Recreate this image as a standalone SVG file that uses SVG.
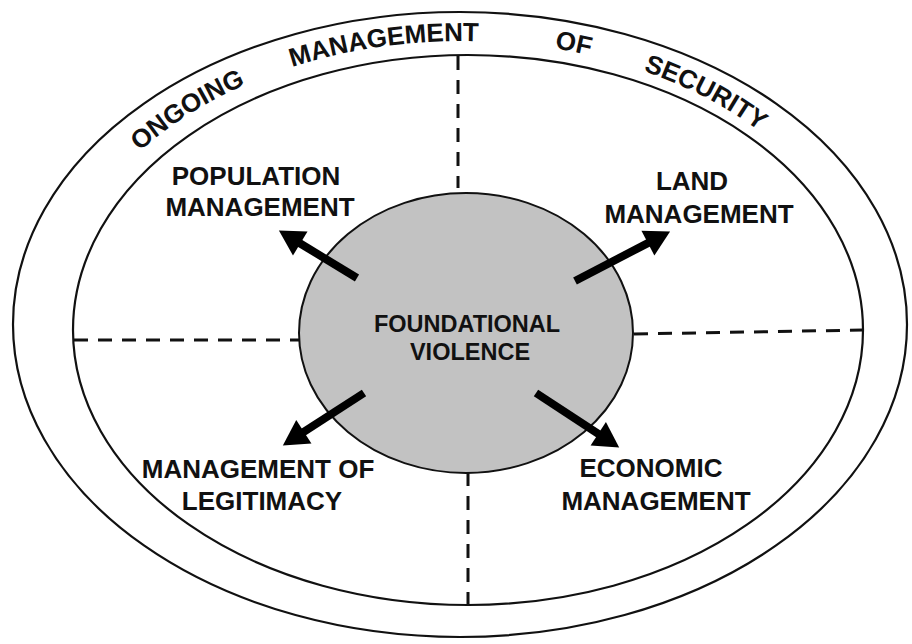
<svg xmlns="http://www.w3.org/2000/svg" width="912" height="644" viewBox="0 0 912 644">
<style>
.ring{fill:none;stroke:#111;stroke-width:2.2}
.dash{fill:none;stroke:#111;stroke-width:3;stroke-dasharray:14 10}
.arrow{stroke:#000;stroke-width:8;fill:none;marker-end:url(#head)}
.lbl{font-family:"Liberation Sans",Arial,sans-serif;font-weight:bold;font-size:26px;fill:#111;text-anchor:middle}
.ctr{font-size:23.5px}
.arc{font-family:"Liberation Sans",Arial,sans-serif;font-weight:bold;font-size:26px;fill:#111;text-anchor:middle}
</style>
<defs>
<marker id="head" markerUnits="userSpaceOnUse" markerWidth="30" markerHeight="32" viewBox="0 -16 28 32" refX="1" refY="0" orient="auto">
<path d="M0,-14 L25,0 L0,14 z" fill="#000"/>
</marker>
<path id="band" d="M52,330 A410,289 0 0 1 872,330"/>
</defs>
<rect width="912" height="644" fill="#fff"/>
<g id="outer-ring">
<ellipse class="ring" cx="460" cy="324.5" rx="447" ry="312.5"/>
<ellipse class="ring" cx="468" cy="330" rx="395" ry="275"/>
<text class="arc"><textPath href="#band" startOffset="268">ONGOING</textPath></text>
<text class="arc"><textPath href="#band" startOffset="475">MANAGEMENT</textPath></text>
<text class="arc"><textPath href="#band" startOffset="664">OF</textPath></text>
<text class="arc"><textPath href="#band" startOffset="803">SECURITY</textPath></text>
</g>
<g id="connectors">
<line class="dash" x1="458" y1="56" x2="458" y2="188"/>
<line class="dash" x1="468" y1="472" x2="468" y2="605"/>
<line class="dash" x1="74" y1="340" x2="299" y2="340"/>
<line class="dash" x1="634" y1="334" x2="863" y2="330"/>
</g>
<g id="foundational-violence">
<ellipse cx="466" cy="333" rx="167" ry="140" fill="#c2c2c2" stroke="#111" stroke-width="2"/>
<text class="lbl ctr" x="467" y="332">FOUNDATIONAL</text>
<text class="lbl ctr" x="470" y="360">VIOLENCE</text>
</g>
<g id="arrows">
<line class="arrow" x1="357" y1="278" x2="299.4" y2="243"/>
<line class="arrow" x1="575" y1="281" x2="648.8" y2="242.6"/>
<line class="arrow" x1="364" y1="393" x2="303" y2="432.4"/>
<line class="arrow" x1="536" y1="393" x2="599.1" y2="434.3"/>
</g>
<g id="population-management">
<text class="lbl" x="256" y="185">POPULATION</text>
<text class="lbl" x="260" y="216">MANAGEMENT</text>
</g>
<g id="land-management">
<text class="lbl" x="692" y="190">LAND</text>
<text class="lbl" x="699" y="223">MANAGEMENT</text>
</g>
<g id="management-of-legitimacy">
<text class="lbl" x="258" y="478">MANAGEMENT OF</text>
<text class="lbl" x="262" y="510">LEGITIMACY</text>
</g>
<g id="economic-management">
<text class="lbl" x="651" y="477">ECONOMIC</text>
<text class="lbl" x="656" y="510">MANAGEMENT</text>
</g>
</svg>
